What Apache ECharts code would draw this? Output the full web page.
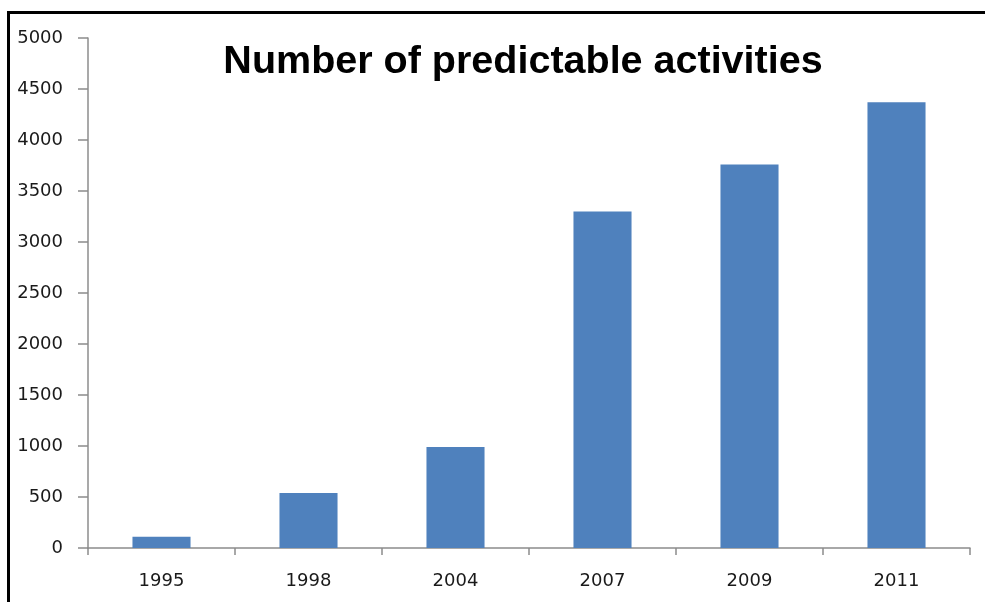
<!DOCTYPE html>
<html>
<head>
<meta charset="utf-8">
<script src="https://cdn.jsdelivr.net/npm/echarts@6/dist/echarts.min.js"></script>
<style>
    html, body { margin: 0; padding: 0; background: #fff; }
    #chart { position: absolute; left: 0; top: 0; width: 985px; height: 602px; }
    .frame { position: absolute; left: 7px; top: 11px; width: 985px; height: 600px;
             border-left: 3px solid #000; border-top: 3px solid #000; pointer-events: none; }
</style>
</head>
<body>
<div id="chart"></div>
<div class="frame"></div>
<script>
// 数据
const years = ['1995', '1998', '2004', '2007', '2009', '2011'];
const activities = [110, 540, 990, 3300, 3760, 4370];

let chart = echarts.init(document.getElementById('chart'));

chart.setOption({
    animation: false,
    title: {
        text: 'Number of predictable activities',
        left: 518,
        textAlign: 'center',
        top: 37,
        textStyle: {
            fontFamily: 'Liberation Sans',
            fontWeight: 'bold',
            fontSize: 39.5,
            color: '#000'
        }
    },
    grid: {
        left: 88,
        right: 15,
        top: 38,
        bottom: 54
    },
    xAxis: {
        type: 'category',
        data: years,
        axisLine: { lineStyle: { color: '#8c8c8c', width: 1.5 } },
        axisTick: { show: true, length: 7, lineStyle: { color: '#8c8c8c', width: 1.5 } },
        axisLabel: {
            margin: 24,
            fontFamily: 'DejaVu Sans',
            fontSize: 18,
            color: '#1a1a1a'
        }
    },
    yAxis: {
        type: 'value',
        min: 0,
        max: 5000,
        interval: 500,
        splitLine: { show: false },
        axisLine: { show: true, lineStyle: { color: '#8c8c8c', width: 1.5 } },
        axisTick: { show: true, length: 10, lineStyle: { color: '#8c8c8c', width: 1.5 } },
        axisLabel: {
            margin: 25,
            formatter: (v) => String(v),
            fontFamily: 'DejaVu Sans',
            fontSize: 18,
            color: '#1a1a1a'
        }
    },
    series: [{
        type: 'bar',
        data: activities,
        barWidth: '39.5%',
        itemStyle: { color: '#4f81bd' }
    }]
});
</script>
</body>
</html>
